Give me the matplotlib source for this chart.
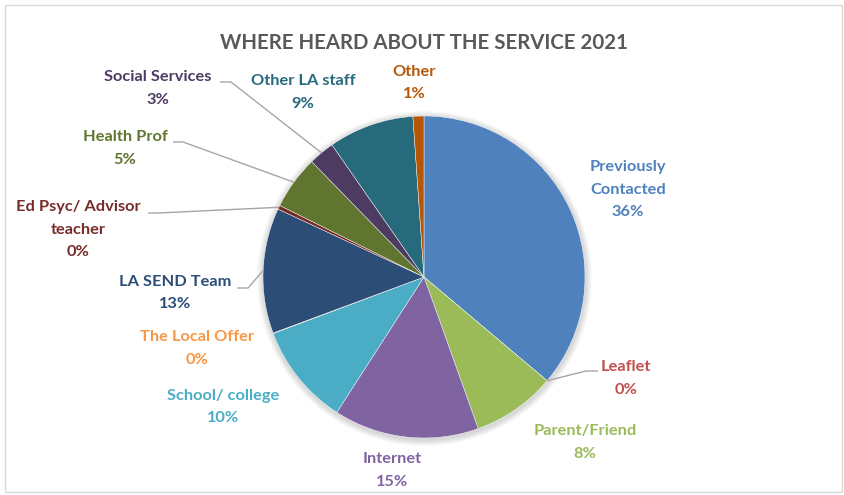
import numpy as np
import matplotlib
matplotlib.use("Agg")
import matplotlib.pyplot as plt
from matplotlib.patches import Rectangle, Circle

plt.rcParams['font.family'] = ['Lato', 'DejaVu Sans']

# Sources, in drawing order (clockwise from 12 o'clock)
categories = ["Previously\nContacted", "Leaflet", "Parent/Friend", "Internet",
              "School/ college", "The Local Offer", "LA SEND Team",
              "Ed Psyc/ Advisor\nteacher", "Health Prof", "Social Services",
              "Other LA staff", "Other"]
shares = [36.2, 0.0, 8.4, 14.6, 10.2, 0.05, 12.6, 0.4, 5.4, 2.6, 8.6, 1.1]
colors = ["#4F81BD", "#C0504D", "#9BBB59", "#8064A2", "#4BACC6", "#F79646",
          "#2C4D75", "#772C2A", "#5F7530", "#4D3B62", "#276A7C", "#B65708"]
title = "WHERE HEARD ABOUT THE SERVICE 2021"

W, H = 844, 495
fig = plt.figure(figsize=(W / 100, H / 100), dpi=100)
ax = fig.add_axes([0, 0, 1, 1])

def Y(py):
    return H - py

cx, cy, R = 424, Y(277), 161

# soft shadow under the pie
for k in range(8):
    ax.add_patch(Circle((cx + 0.5, cy - 1.5), R + 1 + k * 0.8, facecolor="#000000",
                        alpha=0.018, edgecolor="none", zorder=0))

wedges, _ = ax.pie(shares, colors=colors, startangle=90, counterclock=False,
                   center=(cx, cy), radius=R, frame=True,
                   wedgeprops=dict(edgecolor="white", linewidth=0.3))
for w in wedges:
    w.set_zorder(2)

total = sum(shares)
pcts = [f"{round(v / total * 100):.0f}%" for v in shares]

# label block centre (x, y of first line, top-down pixels) and leader elbow
label_pos = {
    0: (628, 167, None),
    1: (626, 367, (598, 371, 586)),
    2: (585, 431, None),
    3: (392, 459, None),
    4: (223, 396, None),
    5: (197, 337, None),
    6: (175, 282, (237, 288, 248)),
    7: (78, 207, (148, 213, 158)),
    8: (125, 137, (173, 142, 183)),
    9: (158, 77, (220, 82, 231)),
    10: (303, 81, None),
    11: (414, 72, None),
}
line_step = 22.5
fs = 11.8

for i, (lx, ly, leader) in label_pos.items():
    lines = categories[i].split("\n") + [pcts[i]]
    for j, s in enumerate(lines):
        ax.text(lx, Y(ly + j * line_step), s, ha="center", va="center",
                fontsize=fs, fontweight="bold", color=colors[i], zorder=5)
    if leader is not None:
        x0, y0, x1 = leader
        w = wedges[i]
        mid = np.deg2rad((w.theta1 + w.theta2) / 2)
        px, py = cx + R * np.cos(mid), cy + R * np.sin(mid)
        ax.plot([x0, x1, px], [Y(y0), Y(y0), py], color="#A6A6A6",
                lw=1.0, zorder=4, solid_capstyle="butt")

ax.text(424, Y(43), title, ha="center", va="center", fontsize=14.7,
        fontweight="bold", color="#595959")

ax.add_patch(Rectangle((5, Y(492)), 837, 487, facecolor="none",
                       edgecolor="#D9D9D9", lw=1.0, zorder=6))

ax.set_xlim(0, W)
ax.set_ylim(0, H)
ax.set_aspect("equal")
ax.axis("off")

fig.savefig("out.png", dpi=100, facecolor="white")
